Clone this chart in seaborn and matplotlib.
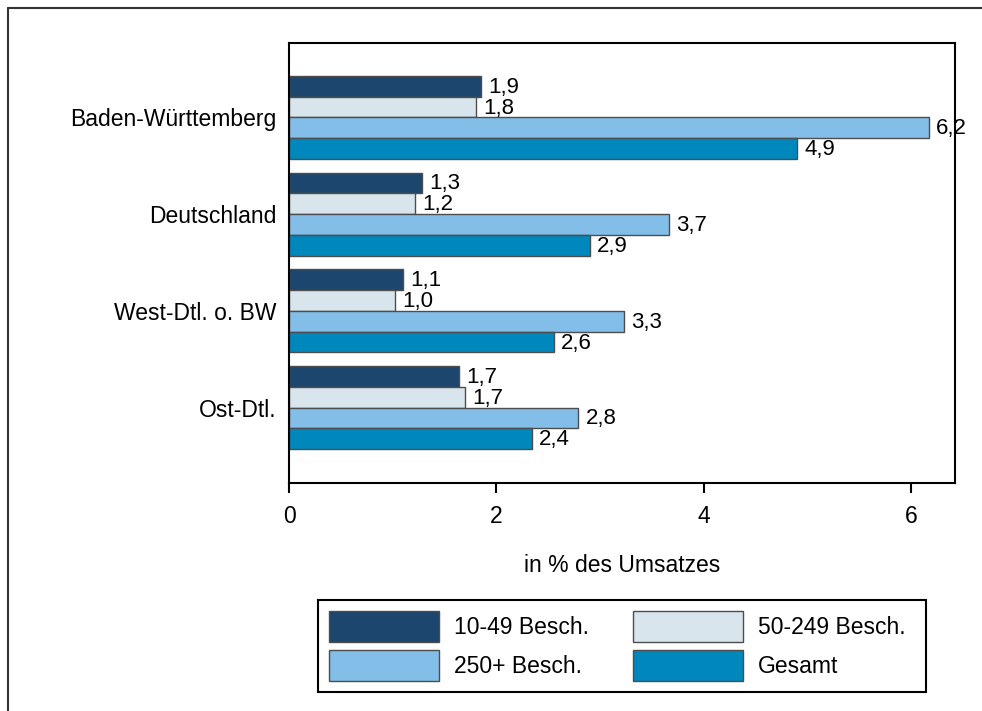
import matplotlib
matplotlib.use("Agg")
import matplotlib.pyplot as plt
import seaborn as sns
import pandas as pd
from matplotlib.lines import Line2D
from matplotlib.patches import Rectangle

# ---- data ----
regions = ["Baden-Württemberg", "Deutschland", "West-Dtl. o. BW", "Ost-Dtl."]
series = ["10-49 Besch.", "50-249 Besch.", "250+ Besch.", "Gesamt"]
v_10_49 = [1.85, 1.28, 1.10, 1.64]
v_50_249 = [1.80, 1.21, 1.02, 1.70]
v_250 = [6.17, 3.66, 3.23, 2.79]
v_total = [4.90, 2.90, 2.55, 2.34]
lab_10_49 = ["1,9", "1,3", "1,1", "1,7"]
lab_50_249 = ["1,8", "1,2", "1,0", "1,7"]
lab_250 = ["6,2", "3,7", "3,3", "2,8"]
lab_total = ["4,9", "2,9", "2,6", "2,4"]
xticks = [0, 2, 4, 6]
x_label = "in % des Umsatzes"

colors = ["#1C466E", "#D9E5EC", "#83BEE8", "#0088BD"]

values = [v_10_49, v_50_249, v_250, v_total]
labels = [lab_10_49, lab_50_249, lab_250, lab_total]
rows = []
for s, vals in zip(series, values):
    for r, v in zip(regions, vals):
        rows.append({"Region": r, "Serie": s, "Wert": v})
df = pd.DataFrame(rows)

sns.set_theme(style="white")
plt.rcParams["font.family"] = ["Liberation Sans", "DejaVu Sans"]
plt.rcParams["text.color"] = "black"
plt.rcParams["axes.labelcolor"] = "black"
plt.rcParams["xtick.color"] = "black"
plt.rcParams["ytick.color"] = "black"
FS = 16.5

fig = plt.figure(figsize=(9.82, 7.11), dpi=100)
ax = fig.add_axes([289 / 982, 1 - 483 / 711, (955 - 289) / 982, (483 - 43) / 711])

sns.barplot(data=df, x="Wert", y="Region", hue="Serie", order=regions,
            hue_order=series, palette=colors, orient="h", width=0.86,
            edgecolor="#4d4d4d", linewidth=1.0, saturation=1, ax=ax,
            legend=True)

for cont, labs in zip(ax.containers, labels):
    for bar, lab in zip(cont, labs):
        y = bar.get_y() + bar.get_height() / 2
        ax.text(bar.get_width() + 0.07, y + 0.01, lab, va="center", ha="left",
                fontsize=16, color="black")

ax.set_xlim(0, 6.42)
ax.set_ylim(3.78, -0.77)
ax.set_xticks(xticks)
ax.set_xticklabels([str(t) for t in xticks], fontsize=FS)
ax.set_xlabel(x_label, fontsize=FS, labelpad=19)
ax.set_ylabel("")
ax.tick_params(axis="x", length=7, width=1.5, direction="out", pad=8.5,
               colors="black", bottom=True)
ax.tick_params(axis="y", length=0, pad=9, labelsize=FS, labelcolor="black")
for sp in ax.spines.values():
    sp.set_color("black")
    sp.set_linewidth(1.5)
    sp.set_visible(True)

handles, leg_labels = ax.get_legend_handles_labels()
ax.get_legend().remove()
order = [0, 2, 1, 3]  # row-major filling like the reference
leg = fig.legend([handles[i] for i in order], [leg_labels[i] for i in order],
                 ncol=2, loc="upper left",
                 bbox_to_anchor=(318 / 982, 1 - 600 / 711),
                 fontsize=FS, frameon=False,
                 handlelength=4.8, handleheight=1.7, handletextpad=0.65,
                 columnspacing=1.9, labelspacing=0.35, borderpad=0.5,
                 borderaxespad=0)
for t in leg.get_texts():
    t.set_color("black")

# legend frame (fixed box as in the reference)
fig.add_artist(Rectangle((318 / 982, 1 - 692 / 711), (926 - 318) / 982,
                         (692 - 600) / 711, transform=fig.transFigure,
                         fill=False, edgecolor="black", lw=1.5))

# outer frame (top and left edges visible)
fig.add_artist(Line2D([7.5 / 982, 1.0], [1 - 7.5 / 711, 1 - 7.5 / 711],
                      transform=fig.transFigure, color="#333333", lw=1.5))
fig.add_artist(Line2D([7.5 / 982, 7.5 / 982], [0, 1 - 7.5 / 711],
                      transform=fig.transFigure, color="#333333", lw=1.5))

fig.savefig("out.png", dpi=100)
